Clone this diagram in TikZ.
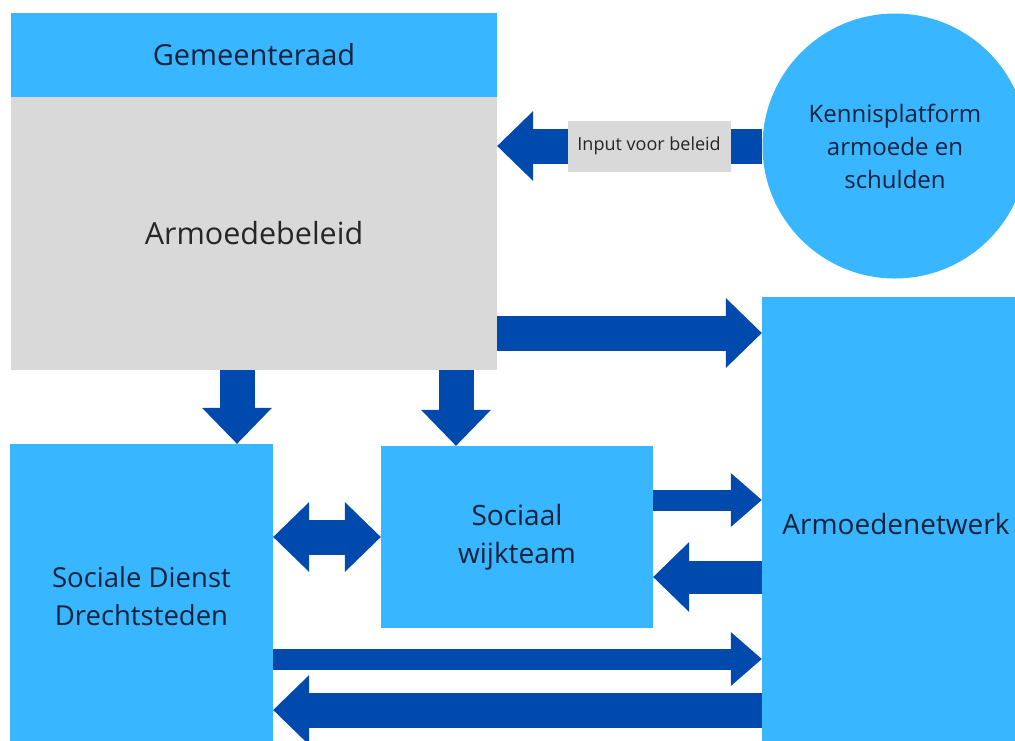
\documentclass[tikz,border=0pt]{standalone}
\usepackage{fontspec}
\setmainfont{Open Sans}
\usetikzlibrary{arrows.meta}
\definecolor{boxblue}{HTML}{38B6FF}
\definecolor{arrowblue}{HTML}{004AAD}
\definecolor{boxgray}{HTML}{D9D9D9}
\definecolor{textdark}{HTML}{14213D}
\tikzset{
  bluebox/.style={rectangle, fill=boxblue, text=textdark, inner sep=0pt, align=center},
  graybox/.style={rectangle, fill=boxgray, text=black!85, inner sep=0pt, align=center},
  bigarrow/.style={draw=arrowblue, line width=35pt, -{Triangle[width=70pt,length=36pt,line width=0pt]}},
  bigboth/.style={bigarrow, {Triangle[width=70pt,length=36pt,line width=0pt]}-{Triangle[width=70pt,length=36pt,line width=0pt]}},
  smallarrow/.style={draw=arrowblue, line width=21pt, -{Triangle[width=54pt,length=31pt,line width=0pt]}}
}
\begin{document}
\begin{tikzpicture}[x=1pt,y=-1pt]
  \useasboundingbox (0,0) rectangle (1015,740);
  % boxes
  \node[bluebox, minimum width=486pt, minimum height=84pt, font=\fontsize{29}{34}\selectfont] (raad) at (254,55) {Gemeenteraad};
  \node[graybox, minimum width=486pt, minimum height=273pt, font=\fontsize{30.5}{36}\selectfont] (beleid) at (254,233.5) {Armoedebeleid};
  \node[bluebox, circle, minimum size=265pt, font=\fontsize{24}{33}\selectfont] (kennis) at (895,146) {Kennisplatform\\armoede en\\schulden};
  \node[bluebox, minimum width=268pt, minimum height=453pt, font=\fontsize{28}{34}\selectfont] (netwerk) at (896,523.5) {Armoedenetwerk};
  \node[bluebox, minimum width=263pt, minimum height=304pt, font=\fontsize{27.5}{38}\selectfont] (dienst) at (141.5,596) {Sociale Dienst\\Drechtsteden};
  \node[bluebox, minimum width=272pt, minimum height=182pt, font=\fontsize{28}{38}\selectfont] (wijk) at (517,537) {Sociaal\\wijkteam};
  %--
  \coordinate (b1) at ([yshift=-99.5pt]beleid.east);
  \coordinate (d1) at ([xshift=95.5pt]dienst.north);
  \coordinate (d2) at ([xshift=-61pt]wijk.north);
  \coordinate (w1) at ([yshift=37pt]wijk.east);
  \coordinate (w2) at ([yshift=-40pt]wijk.east);
  \coordinate (s1) at ([yshift=-63pt]dienst.east);
  \coordinate (s2) at ([yshift=-114pt]dienst.east);
  %--
  \draw[bigarrow] (kennis.west) -- node[graybox, pos=0.427, minimum width=163pt, minimum height=51pt, font=\fontsize{18}{21}\selectfont] (input) {Input voor beleid} (beleid.east |- kennis.west);
  \draw[bigarrow] (b1) -- (b1 -| netwerk.west);
  \draw[bigarrow] (d1 |- beleid.south) -- (d1);
  \draw[bigarrow] (d2 |- beleid.south) -- (d2);
  \draw[bigboth] (wijk.west -| dienst.east) -- (wijk.west);
  \draw[smallarrow] (w1) -- (w1 -| netwerk.west);
  \draw[bigarrow, line width=33pt] (w2 -| netwerk.west) -- (w2);
  \draw[smallarrow] (s1) -- (s1 -| netwerk.west);
  \draw[bigarrow] (s2 -| netwerk.west) -- (s2);
\end{tikzpicture}
\end{document}
